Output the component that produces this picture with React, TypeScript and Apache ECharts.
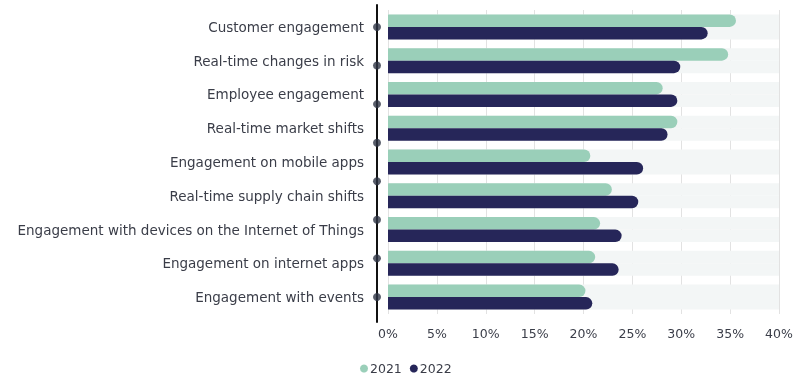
import React, { useEffect, useRef } from "react";
import * as echarts from "echarts";

const categories = [
  "Customer engagement",
  "Real-time changes in risk",
  "Employee engagement",
  "Real-time market shifts",
  "Engagement on mobile apps",
  "Real-time supply chain shifts",
  "Engagement with devices on the Internet of Things",
  "Engagement on internet apps",
  "Engagement with events",
];
const values2021 = [35.6, 34.8, 28.1, 29.6, 20.7, 22.9, 21.7, 21.2, 20.2];
const values2022 = [32.7, 29.9, 29.6, 28.6, 26.1, 25.6, 23.9, 23.6, 20.9];
const axisMarkers = [1, 2, 3, 4, 5, 6, 7, 8];

const FONT = "DejaVu Sans";

export default function App() {
  const ref = useRef<HTMLDivElement>(null);
  useEffect(() => {
    const chart = echarts.init(ref.current!, null, { renderer: "svg" });
    chart.setOption({
      animation: false,
      textStyle: { fontFamily: FONT },
      legend: {
        data: [
          { name: "2021", itemStyle: { color: "#9acfb9" } },
          { name: "2022", itemStyle: { color: "#262659" } },
        ],
        icon: "circle",
        itemWidth: 8,
        itemHeight: 8,
        itemGap: 8,
        left: 355,
        top: 357,
        textStyle: { fontSize: 12.5, color: "#3a3d48", fontFamily: FONT, padding: [0, 0, 0, -3] },
      },
      grid: [
        { left: 388, right: 21, top: 10, bottom: 63 },
        { left: 377, width: 5, top: 5, bottom: 55 },
      ],
      xAxis: [
        {
          type: "value",
          gridIndex: 0,
          min: 0,
          max: 40,
          interval: 5,
          axisLine: { show: false },
          axisTick: { show: false },
          splitLine: { lineStyle: { color: "#e2e2e2", width: 1 } },
          axisLabel: {
            formatter: "{value}%",
            fontSize: 12.5,
            color: "#3a3d48",
            margin: 13,
            fontFamily: FONT,
          },
        },
        {
          type: "value",
          gridIndex: 1,
          min: 0,
          max: 1,
          show: false,
        },
      ],
      yAxis: [
        {
          type: "category",
          gridIndex: 0,
          data: categories,
          inverse: true,
          axisLine: { show: false },
          axisTick: { show: false },
          axisLabel: {
            fontSize: 13.5,
            color: "#3a3d48",
            margin: 24,
            fontFamily: FONT,
          },
        },
        {
          type: "value",
          gridIndex: 1,
          min: 0.43,
          max: 8.65,
          inverse: true,
          axisLine: { show: true, onZero: false, lineStyle: { color: "#111111", width: 2 } },
          axisTick: { show: false },
          axisLabel: { show: false },
          splitLine: { show: false },
        },
      ],
      series: [
        {
          name: "2021",
          type: "bar",
          xAxisIndex: 0,
          yAxisIndex: 0,
          data: values2021,
          barWidth: 12.5,
          barGap: "0%",
          itemStyle: { color: "#9acfb9", borderRadius: [0, 7, 7, 0] },
          showBackground: true,
          backgroundStyle: { color: "#f3f6f6" },
        },
        {
          name: "2022",
          type: "bar",
          xAxisIndex: 0,
          yAxisIndex: 0,
          data: values2022,
          barWidth: 12.5,
          barGap: "0%",
          itemStyle: { color: "#262659", borderRadius: [0, 7, 7, 0] },
          showBackground: true,
          backgroundStyle: { color: "#f3f6f6" },
        },
        {
          type: "scatter",
          xAxisIndex: 1,
          yAxisIndex: 1,
          symbol: "circle",
          symbolSize: 8,
          itemStyle: { color: "#2e3445" },
          data: axisMarkers.map((m) => [0, m]),
          silent: true,
        },
      ],
    });
    return () => chart.dispose();
  }, []);
  return (
    <div
      ref={ref}
      style={{ position: "fixed", left: 0, top: 0, width: 800, height: 377 }}
    />
  );
}
